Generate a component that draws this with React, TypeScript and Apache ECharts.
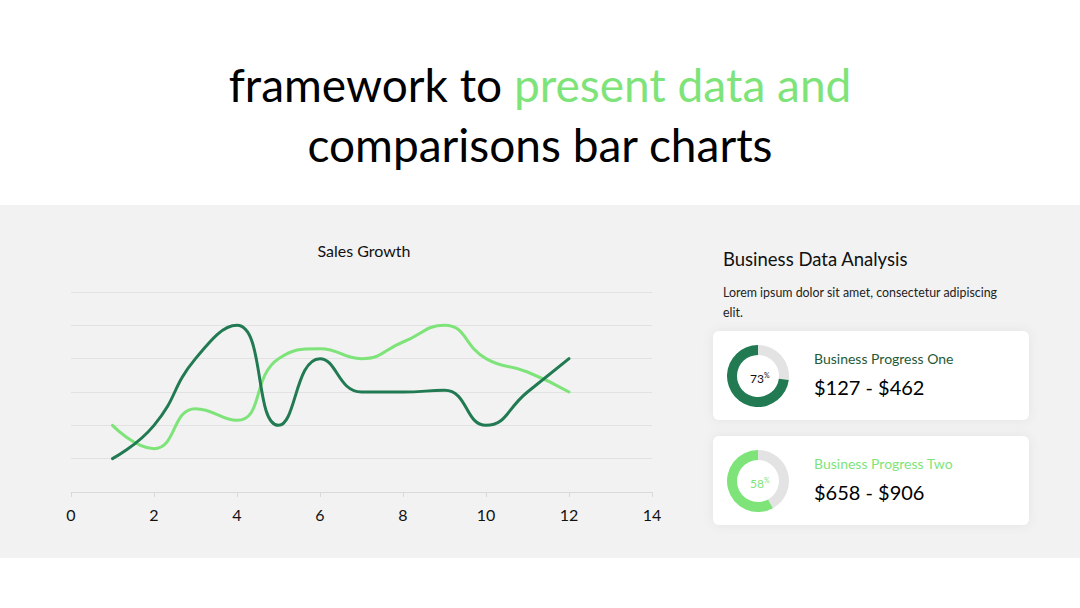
import React, { useEffect, useRef } from "react";
import * as echarts from "echarts";

const xValues = [1, 2, 3, 4, 5, 6, 7, 8, 9, 10, 11, 12];
const seriesDark = [1, 2, 4, 5, 2, 4, 3, 3, 3.05, 2, 3, 4];
const seriesLight = [2, 1.3, 2.5, 2.15, 4, 4.3, 4, 4.5, 5, 4, 3.6, 3];
const xTicks = { min: 0, max: 14, interval: 2 };
const yTicks = { min: 0, max: 6, interval: 1 };

const progressNames = ["Business Progress One", "Business Progress Two"];
const progressValues = [73, 58];
const progressRanges = ["$127 - $462", "$658 - $906"];

const DARK = "#217a52";
const LIGHT = "#7ee47a";
const FONT = "Lato, 'Open Sans', sans-serif";

export default function App() {
  const ref = useRef<HTMLDivElement>(null);
  useEffect(() => {
    if (!ref.current) return;
    const chart = echarts.init(ref.current, undefined, { renderer: "svg" });

    const cardTops = [331, 436];
    const cardColors = [DARK, LIGHT];
    const subColors = ["#1f5a36", LIGHT];

    const graphics: any[] = [
      { type: "rect", z: -10, shape: { x: 0, y: 205, width: 1080, height: 353 }, style: { fill: "#f2f2f2" }, silent: true },
      {
        type: "text",
        x: 540,
        y: 84,
        style: {
          text: "{a|framework to }{b|present data and}",
          align: "center",
          verticalAlign: "middle",
          rich: {
            a: { fontSize: 46, fontFamily: FONT, fill: "#000" },
            b: { fontSize: 46, fontFamily: FONT, fill: LIGHT },
          },
        },
      },
      {
        type: "text",
        x: 540,
        y: 144,
        style: { text: "comparisons bar charts", fontSize: 46, fontFamily: FONT, fill: "#000", align: "center", verticalAlign: "middle" },
      },
      {
        type: "text",
        x: 364,
        y: 250,
        style: { text: "Sales Growth", fontSize: 16, fontFamily: FONT, fill: "#111", align: "center", verticalAlign: "middle" },
      },
      {
        type: "text",
        x: 723,
        y: 259,
        style: { text: "Business Data Analysis", fontSize: 18.5, fontFamily: FONT, fill: "#111", align: "left", verticalAlign: "middle" },
      },
      {
        type: "text",
        x: 723,
        y: 292,
        style: { text: "Lorem ipsum dolor sit amet, consectetur adipiscing", fontSize: 12.4, fontFamily: FONT, fill: "#222", align: "left", verticalAlign: "middle" },
      },
      {
        type: "text",
        x: 723,
        y: 312,
        style: { text: "elit.", fontSize: 12.4, fontFamily: FONT, fill: "#222", align: "left", verticalAlign: "middle" },
      },
    ];

    cardTops.forEach((top, i) => {
      graphics.push({
        type: "rect",
        z: -5,
        shape: { x: 713, y: top, width: 316, height: 89, r: 6 },
        style: { fill: "#ffffff", shadowBlur: 12, shadowColor: "rgba(0,0,0,0.06)" },
        silent: true,
      });
      graphics.push({
        type: "text",
        x: 814,
        y: top + 27,
        style: { text: progressNames[i], fontSize: 14, fontFamily: FONT, fill: subColors[i], align: "left", verticalAlign: "middle" },
      });
      graphics.push({
        type: "text",
        x: 814,
        y: top + 56,
        style: { text: progressRanges[i], fontSize: 20, fontFamily: FONT, fill: "#000", align: "left", verticalAlign: "middle" },
      });
      graphics.push({
        type: "text",
        x: 764,
        y: top + 47,
        z: 10,
        style: { text: String(progressValues[i]), fontSize: 12, fontFamily: FONT, fill: i === 0 ? "#111" : LIGHT, align: "right", verticalAlign: "middle" },
      });
      graphics.push({
        type: "text",
        x: 764,
        y: top + 44,
        z: 10,
        style: { text: "%", fontSize: 7, fontFamily: FONT, fill: i === 0 ? "#111" : LIGHT, align: "left", verticalAlign: "middle" },
      });
    });

    const pies = progressValues.map((v, i) => ({
      type: "pie",
      center: [758, cardTops[i] + 45],
      radius: [21, 31],
      startAngle: 90,
      clockwise: true,
      silent: true,
      label: { show: false },
      labelLine: { show: false },
      data: [
        { value: 100 - v, name: "rest", itemStyle: { color: "#e3e3e3" } },
        { value: v, name: progressNames[i], itemStyle: { color: cardColors[i] } },
      ],
    }));

    chart.setOption({
      animation: false,
      backgroundColor: "#ffffff",
      grid: { left: 71, right: 428, top: 292, bottom: 116, containLabel: false },
      xAxis: {
        type: "value",
        min: xTicks.min,
        max: xTicks.max,
        interval: xTicks.interval,
        axisLine: { show: true, lineStyle: { color: "#d9d9d9", width: 1 } },
        axisTick: { show: true, length: 5, lineStyle: { color: "#d9d9d9" } },
        axisLabel: { fontSize: 16, fontFamily: FONT, color: "#111", margin: 14 },
        splitLine: { show: false },
      },
      yAxis: {
        type: "value",
        min: yTicks.min,
        max: yTicks.max,
        interval: yTicks.interval,
        axisLine: { show: false },
        axisTick: { show: false },
        axisLabel: { show: false },
        splitLine: { show: true, lineStyle: { color: "#e2e2e2", width: 1 } },
      },
      series: [
        {
          type: "line",
          name: "Series 1",
          data: xValues.map((x, i) => [x, seriesDark[i]]),
          smooth: 0.5,
          symbol: "none",
          lineStyle: { color: DARK, width: 3, cap: "round" },
          z: 3,
        },
        {
          type: "line",
          name: "Series 2",
          data: xValues.map((x, i) => [x, seriesLight[i]]),
          smooth: 0.5,
          symbol: "none",
          lineStyle: { color: LIGHT, width: 3, cap: "round" },
          z: 2,
        },
        ...pies,
      ],
      graphic: graphics,
    });
    return () => chart.dispose();
  }, []);
  return <div ref={ref} style={{ position: "fixed", left: 0, top: 0, width: 1080, height: 608 }} />;
}
